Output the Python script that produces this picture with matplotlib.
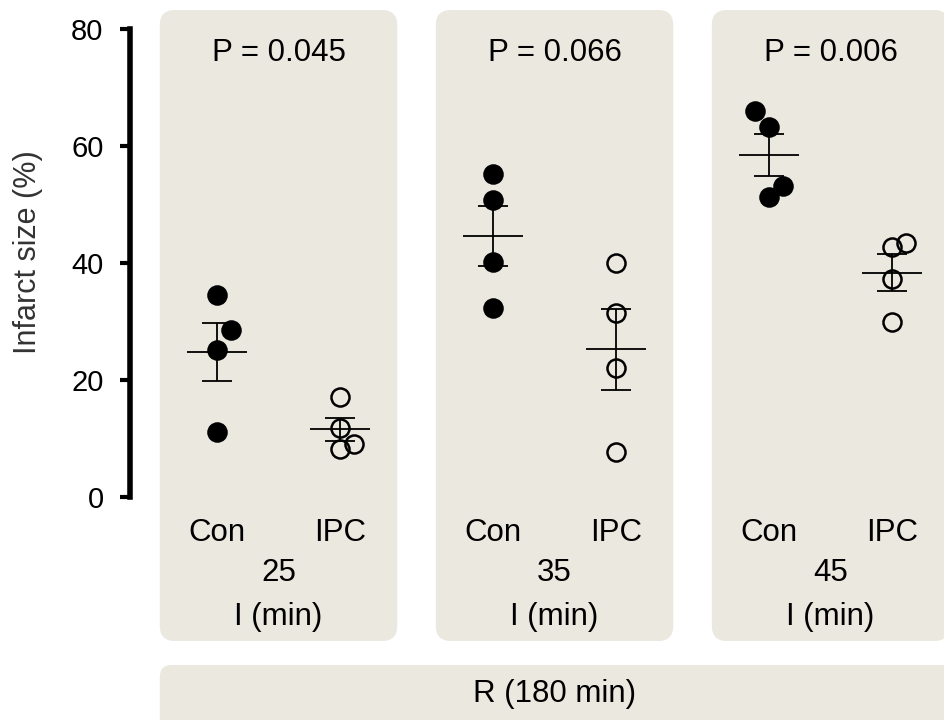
import numpy as np
import matplotlib.pyplot as plt
from matplotlib.patches import FancyBboxPatch
from matplotlib.transforms import blended_transform_factory

plt.rcParams['font.family'] = ['Liberation Sans', 'DejaVu Sans']

# data
ischemia = ['25', '35', '45']
groups = ['Con', 'IPC']
p_values = ['0.045', '0.066', '0.006']
con = [[34.5, 28.5, 25.1, 11.1],
       [55.2, 50.8, 40.2, 32.3],
       [66.0, 63.3, 53.2, 51.3]]
ipc = [[17.1, 11.8, 9.1, 8.2],
       [40.0, 31.4, 22.0, 7.7],
       [43.4, 42.8, 37.2, 30.0]]

W, H = 944, 720
panel_col = '#ebe8df'
fs = 22.5

fig = plt.figure(figsize=(W / 100, H / 100), dpi=100)
# background axes in pixel units (y goes down) for the shaded boxes
bg = fig.add_axes([0, 0, 1, 1])
bg.set_xlim(0, W)
bg.set_ylim(H, 0)
bg.axis('off')

ax = fig.add_axes([130 / W, 223 / H, (W - 130) / W, 468 / H])
ax.set_facecolor('none')
ax.set_xlim(-0.538, 2.411)
ax.set_ylim(0, 80)
px_per_unit = 276.0
off = 0.223

trans = blended_transform_factory(ax.transData, bg.transData)


def xpix(x):
    return ax.transData.transform((x, 0))[0]


def swarm(xc, vals, dy_min=21, step=14):
    # column scatter: points closer than dy_min px vertically go to side slots
    ys = ax.transData.transform(np.column_stack([np.full(len(vals), xc), vals]))[:, 1]
    placed = []  # (slot, y)
    slots = np.zeros(len(vals))
    side = 1
    for i in np.argsort(vals):
        def free(s):
            return all(abs(ys[i] - qy) >= dy_min for qs, qy in placed if qs == s)
        if free(0):
            s = 0
        else:
            s = side
            while not free(s):
                s = -s if s > 0 else -s + 1
            side = -side
        slots[i] = s
        placed.append((s, ys[i]))
    return xc + slots * step / px_per_unit


for g in range(3):
    left = xpix(g - 0.43)
    right = xpix(g + 0.43)
    bg.add_patch(FancyBboxPatch((left, 10), right - left, 631,
                                boxstyle='round,pad=0,rounding_size=15',
                                fc=panel_col, ec='none'))
    for j, (vals, fill) in enumerate([(con[g], 'black'), (ipc[g], 'none')]):
        xc = g + (-off if j == 0 else off)
        vals = np.array(vals)
        xs = swarm(xc, vals)
        ax.plot(xs, vals, 'o', ms=13, mfc=fill, mec='black', mew=1.8,
                clip_on=False, zorder=3)
        m = vals.mean()
        sem = vals.std(ddof=1) / np.sqrt(len(vals))
        ax.hlines(m, xc - 0.109, xc + 0.109, color='black', lw=1.3, zorder=4)
        ax.errorbar(xc, m, yerr=sem, fmt='none', ecolor='black', elinewidth=1.3,
                    capsize=11, capthick=1.3, zorder=4)
        ax.text(xc, 533, groups[j], transform=trans, ha='center', va='center',
                fontsize=fs)
    ax.text(g, 53, 'P = ' + p_values[g], transform=trans, ha='center',
            va='center', fontsize=fs)
    ax.text(g, 573, ischemia[g], transform=trans, ha='center', va='center',
            fontsize=fs)
    ax.text(g, 617, 'I (min)', transform=trans, ha='center', va='center',
            fontsize=fs)

# reperfusion bar
left = xpix(-0.43)
bg.add_patch(FancyBboxPatch((left, 665), W + 40 - left, 100,
                            boxstyle='round,pad=0,rounding_size=12',
                            fc=panel_col, ec='none'))
ax.text(1, 694, 'R (180 min)', transform=trans, ha='center', va='center',
        fontsize=fs)

for s in ['top', 'right', 'bottom']:
    ax.spines[s].set_visible(False)
ax.spines['left'].set_linewidth(4)
ax.spines['left'].set_bounds(0, 80)
ax.set_xticks([])
ax.set_yticks([0, 20, 40, 60, 80])
ax.tick_params(axis='y', length=7, width=3, pad=12, labelsize=21)

fig.text(28 / W, 1 - 252 / H, 'Infarct size (%)', rotation=90, ha='center',
         va='center', fontsize=22, color='#333333')

fig.savefig('out.png', dpi=100)
